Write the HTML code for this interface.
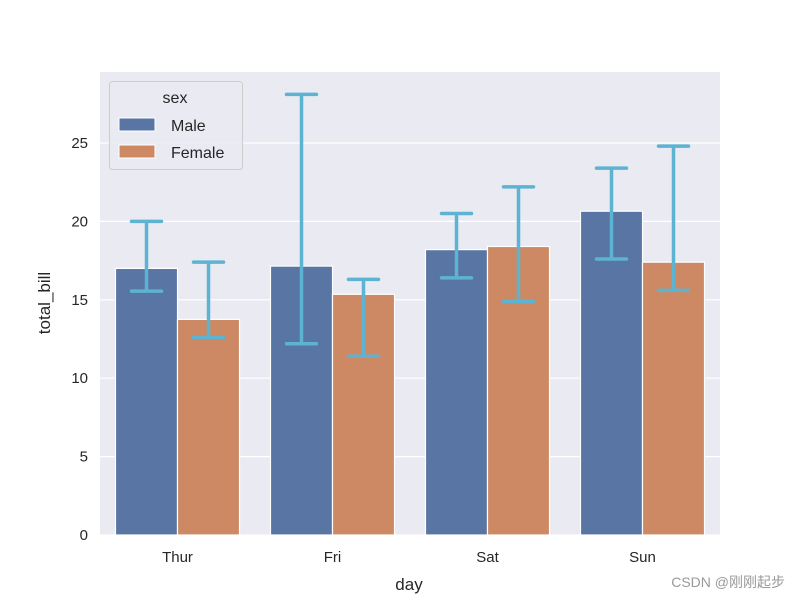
<!DOCTYPE html>
<html><head><meta charset="utf-8"><style>
body{margin:0;background:#fff;}
svg{display:block;font-family:"Liberation Sans","DejaVu Sans",sans-serif;}
</style></head><body>
<svg id="chart" width="800" height="600">
<rect x="100" y="72" width="620" height="463" fill="#eaeaf2"/>
<g id="grid"></g><g id="bars"></g><g id="errs"></g><g id="axes"></g>
<g>
<rect x="109.5" y="81.5" width="133" height="88" rx="3" fill="#eaeaf2" fill-opacity="0.8" stroke="#cccccc"/>
<text x="175" y="103" font-size="16" text-anchor="middle" fill="#262626">sex</text>
<rect x="119" y="118" width="36" height="13" fill="#5875a4" stroke="#fff"/>
<text x="171" y="131" font-size="16" fill="#262626">Male</text>
<rect x="119" y="145" width="36" height="13" fill="#cc8963" stroke="#fff"/>
<text x="171" y="158" font-size="16" fill="#262626">Female</text>
</g>
<text x="409" y="590" font-size="17" text-anchor="middle" fill="#262626">day</text>
<text transform="translate(50,303) rotate(-90)" font-size="17" text-anchor="middle" fill="#262626">total_bill</text>
<text x="785" y="587" font-size="14" text-anchor="end" fill="#999" font-family="Liberation Sans,'Noto Sans CJK SC',sans-serif">CSDN @刚刚起步</text>
</svg>
<script>
const categories=["Thur","Fri","Sat","Sun"];
const maleValues=[17.0,17.15,18.2,20.65];
const femaleValues=[13.75,15.35,18.4,17.4];
const maleLow=[15.55,12.2,16.4,17.6];
const maleHigh=[20.0,28.1,20.5,23.4];
const femaleLow=[12.6,11.4,14.9,15.6];
const femaleHigh=[17.4,16.3,22.2,24.8];
const yTicks=[0,5,10,15,20,25];
const NS="http://www.w3.org/2000/svg";
const L=100,R=720,T=72,B=535;
const y=v=>B-v*15.68;
const band=(R-L)/categories.length;
const xc=i=>L+band*(i+0.5);
const bw=band*0.4;
function mk(tag,attrs,parent){const e=document.createElementNS(NS,tag);for(const k in attrs)e.setAttribute(k,attrs[k]);document.getElementById(parent).appendChild(e);return e;}
yTicks.forEach(t=>{
 const g=mk("line",{x1:L,x2:R,y1:y(t),y2:y(t),stroke:"#fff","stroke-width":1.2},"grid");
 
 
 const tx=mk("text",{x:L-12,y:y(t)+5,"font-size":15,"text-anchor":"end",fill:"#262626"},"axes");
 tx.textContent=t;
 
 
});
categories.forEach((c,i)=>{
 const tx=mk("text",{x:xc(i),y:B+27,"font-size":15,"text-anchor":"middle",fill:"#262626"},"axes");
 tx.textContent=c;
 
 
 [[maleValues,maleLow,maleHigh,"#5875a4",-1,"male"],[femaleValues,femaleLow,femaleHigh,"#cc8963",0,"female"]].forEach(([vals,lo,hi,col,off,nm])=>{
  const x0=xc(i)+off*bw;
  const b=mk("rect",{x:x0,y:y(vals[i]),width:bw,height:B-y(vals[i]),fill:col,stroke:"#fff","stroke-width":1.2},"bars");
  
  
  const cx=x0+bw/2;
  const e=mk("path",{d:`M${cx} ${y(lo[i])}V${y(hi[i])}M${cx-15} ${y(lo[i])}H${cx+15}M${cx-15} ${y(hi[i])}H${cx+15}`,stroke:"#5cb4d2","stroke-width":3.5,fill:"none","stroke-linecap":"round"},"errs");
  
  
 });
});
</script>
</body></html>
